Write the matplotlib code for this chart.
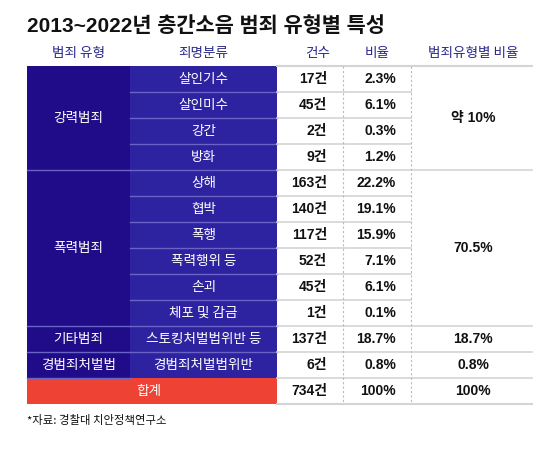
import matplotlib
matplotlib.use("Agg")
import matplotlib.pyplot as plt
from matplotlib.patches import Rectangle

# ---- data ----
title = "2013~2022년 층간소음 범죄 유형별 특성"
headers = ["범죄 유형", "죄명분류", "건수", "비율", "범죄유형별 비율"]
groups = ["강력범죄", "폭력범죄", "기타범죄", "경범죄처벌법"]
group_sizes = [4, 6, 1, 1]
group_ratios = ["약 10%", "70.5%", "18.7%", "0.8%"]
crimes = ["살인기수", "살인미수", "강간", "방화",
          "상해", "협박", "폭행", "폭력행위 등", "손괴", "체포 및 감금",
          "스토킹처벌법위반 등", "경범죄처벌법위반"]
counts = [17, 45, 2, 9, 163, 140, 117, 52, 45, 1, 137, 6]
ratios = [2.3, 6.1, 0.3, 1.2, 22.2, 19.1, 15.9, 7.1, 6.1, 0.1, 18.7, 0.8]
total_label = "합계"
total_count = 734
total_ratio = "100%"
source = "*자료: 경찰대 치안정책연구소"

# ---- style ----
KR = ["Noto Sans CJK KR", "DejaVu Sans"]
NUM = ["Liberation Sans Narrow", "Liberation Sans", "Noto Sans CJK KR", "DejaVu Sans"]
C_GROUP = "#200c88"
C_CRIME = "#2d22a0"
C_LINE_BLUE = "#6a62c4"
C_RED = "#ee4235"
C_HEAD = "#2a2a8c"
C_GRID = "#d4d4d4"
FS = 9.8

W, H = 560, 473
fig = plt.figure(figsize=(W / 100, H / 100), dpi=100)
ax = fig.add_axes([0, 0, 1, 1])
ax.set_xlim(0, W)
ax.set_ylim(H, 0)
ax.axis("off")

x0, x1, x2, x3, x4, x5 = 27, 130, 277, 343, 411, 532
top = 66
rh = 26
nrows = len(crimes) + 1

# title
ax.text(x0, 26, title, fontsize=15, fontweight="bold",
        family=["Liberation Sans", "Noto Sans CJK KR"],
        ha="left", va="center", color="#111111")

# headers
hy = 53
hx = [(x0 + x1) / 2, (x1 + x2) / 2, 318, 377, 473]
for h, x in zip(headers, hx):
    ax.text(x, hy, h, fontsize=FS, family=KR, ha="center", va="center",
            color=C_HEAD)

# group cells
r = 0
for g, n, gr in zip(groups, group_sizes, group_ratios):
    y = top + r * rh
    ax.add_patch(Rectangle((x0, y), x1 - x0, n * rh, color=C_GROUP, lw=0))
    ax.text((x0 + x1) / 2, y + n * rh / 2, g, fontsize=FS, family=KR,
            color="white", ha="center", va="center")
    ax.text(473, y + n * rh / 2, gr, fontsize=10, family=NUM,
            fontweight="bold", color="#111111", ha="center", va="center")
    r += n

# crime rows
for i, (c, n, p) in enumerate(zip(crimes, counts, ratios)):
    y = top + i * rh
    ax.add_patch(Rectangle((x1, y), x2 - x1, rh, color=C_CRIME, lw=0))
    ax.text((x1 + x2) / 2, y + rh / 2, c, fontsize=FS, family=KR,
            color="white", ha="center", va="center")
    ax.text(327, y + rh / 2, f"{n}건", fontsize=10, family=NUM,
            fontweight="bold", color="#111111", ha="right", va="center")
    ax.text(396, y + rh / 2, f"{p:.1f}%", fontsize=10, family=NUM,
            fontweight="bold", color="#111111", ha="right", va="center")

# total row
yt = top + len(crimes) * rh
ax.add_patch(Rectangle((x0, yt), x2 - x0, rh, color=C_RED, lw=0))
ax.text((x0 + x2) / 2 - 3, yt + rh / 2, total_label, fontsize=FS, family=KR,
        color="white", ha="center", va="center")
ax.text(327, yt + rh / 2, f"{total_count}건", fontsize=10, family=NUM,
        fontweight="bold", color="#111111", ha="right", va="center")
ax.text(396, yt + rh / 2, total_ratio, fontsize=10, family=NUM,
        fontweight="bold", color="#111111", ha="right", va="center")
ax.text(473, yt + rh / 2, total_ratio, fontsize=10, family=NUM,
        fontweight="bold", color="#111111", ha="center", va="center")

# lines
bounds = [0]
for n in group_sizes:
    bounds.append(bounds[-1] + n)
for i in range(1, nrows):
    y = top + i * rh
    if i < len(crimes):
        ax.plot([x1, x2], [y, y], color=C_LINE_BLUE, lw=1)
    if i in bounds:
        ax.plot([x0, x1], [y, y], color=C_LINE_BLUE, lw=1)
        ax.plot([x2, x5], [y, y], color=C_GRID, lw=1.2)
    else:
        ax.plot([x2, x4], [y, y], color=C_GRID, lw=1.2)
ax.plot([x2, x5], [top, top], color=C_GRID, lw=1.5)
ax.plot([x2, x5], [top + nrows * rh, top + nrows * rh], color=C_GRID, lw=1.5)
for xv in (x3, x4):
    ax.plot([xv, xv], [top, top + nrows * rh], color="#bbbbbb", lw=0.8,
            ls=(0, (2, 2)))

# source
ax.text(x0, 420, source, fontsize=8.2, family=KR, ha="left", va="center",
        color="#111111")

fig.savefig("out.png", dpi=100)
